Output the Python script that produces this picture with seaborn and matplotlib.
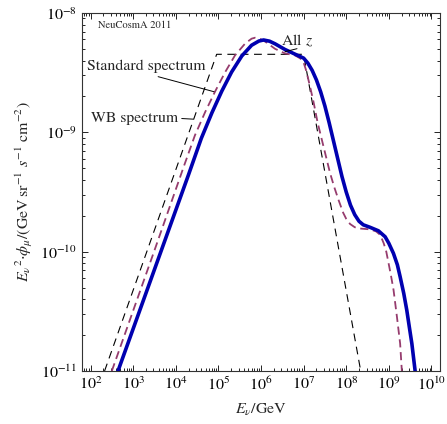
import numpy as np
import pandas as pd
import matplotlib
matplotlib.use("Agg")
import matplotlib.pyplot as plt
from matplotlib.ticker import NullFormatter, LogFormatterMathtext
import seaborn as sns

# log10 of neutrino energy (GeV) and log10 of E^2 * flux (GeV sr^-1 s^-1 cm^-2)
full_logE = [2.645, 4.0, 4.3, 4.6, 4.85, 5.08, 5.31, 5.55, 5.78, 5.95, 6.06, 6.2, 6.33,
             6.56, 6.8, 7.0, 7.1, 7.2, 7.3, 7.4, 7.5, 7.6, 7.7, 7.8, 7.9, 8.0, 8.1, 8.2,
             8.3, 8.4, 8.56, 8.755, 8.913, 9.0, 9.108, 9.2, 9.265, 9.35, 9.421, 9.48,
             9.54, 9.58, 9.617]
full_logF = [-11.0, -9.653, -9.355, -9.05, -8.835, -8.655, -8.495, -8.36, -8.27, -8.235,
             -8.226, -8.236, -8.258, -8.305, -8.345, -8.378, -8.42, -8.48, -8.56, -8.66,
             -8.78, -8.92, -9.07, -9.22, -9.37, -9.5, -9.61, -9.69, -9.745, -9.775,
             -9.796, -9.825, -9.875, -9.93, -10.014, -10.11, -10.21, -10.35, -10.49,
             -10.63, -10.77, -10.89, -11.0]

std_logE = [2.5, 3.5, 4.2, 4.45, 4.69, 4.92, 5.16, 5.39, 5.63, 5.78, 5.86, 5.97, 6.1,
            6.33, 6.56, 6.8, 6.92, 7.0, 7.05, 7.1, 7.15, 7.23, 7.33, 7.43, 7.53, 7.62,
            7.72, 7.82, 7.93, 8.0, 8.09, 8.2, 8.29, 8.56, 8.7, 8.8, 8.88, 8.94, 8.99,
            9.05, 9.11, 9.19, 9.265, 9.305]
std_logF = [-11.0, -9.99, -9.275, -9.025, -8.83, -8.66, -8.495, -8.355, -8.255, -8.215,
            -8.207, -8.215, -8.24, -8.3, -8.338, -8.355, -8.38, -8.415, -8.47, -8.54,
            -8.615, -8.74, -8.92, -9.065, -9.21, -9.34, -9.46, -9.567, -9.675, -9.725,
            -9.768, -9.795, -9.805, -9.813, -9.83, -9.86, -9.93, -10.0, -10.09, -10.2,
            -10.32, -10.546, -10.77, -11.0]

wb_logE = [2.33, 4.96, 7.0, 8.34]
wb_logF = [-11.0, -8.346, -8.346, -11.0]

curves = {
    "full": (np.power(10.0, full_logE), np.power(10.0, full_logF)),
    "std": (np.power(10.0, std_logE), np.power(10.0, std_logF)),
    "wb": (np.power(10.0, wb_logE), np.power(10.0, wb_logF)),
}

sns.set_theme(style="ticks")
plt.rcParams["font.family"] = ["STIXGeneral", "DejaVu Serif"]
plt.rcParams["mathtext.fontset"] = "stix"

fig = plt.figure(figsize=(4.47, 4.24), dpi=100)
ax = fig.add_axes([0.1834, 0.125, 0.8009, 0.8443])

x, y = curves["wb"]
sns.lineplot(x=x, y=y, ax=ax, color="black", lw=0.8,
             linestyle=(0, (7, 5)), sort=False, estimator=None)
x, y = curves["std"]
sns.lineplot(x=x, y=y, ax=ax, color="#963c6e", lw=1.3,
             linestyle=(0, (4.5, 2.6)), sort=False, estimator=None)
x, y = curves["full"]
sns.lineplot(x=x, y=y, ax=ax, color="#0000b0", lw=2.6,
             sort=False, estimator=None, solid_joinstyle="round")

ax.set_xscale("log")
ax.set_yscale("log")
ax.set_xlim(10**1.8, 10**10.2)
ax.set_ylim(1e-11, 1e-8)

x_major = [10.0**k for k in range(2, 11)]
x_minor = [m * 10.0**k for k in range(1, 11) for m in range(2, 10)
           if 10**1.8 <= m * 10.0**k <= 10**10.2]
y_major = [10.0**k for k in range(-11, -7)]
y_minor = [m * 10.0**k for k in range(-11, -8) for m in range(2, 10)]
ax.set_xticks(x_major)
ax.set_xticks(x_minor, minor=True)
ax.set_yticks(y_major)
ax.set_yticks(y_minor, minor=True)
ax.xaxis.set_major_formatter(LogFormatterMathtext())
ax.yaxis.set_major_formatter(LogFormatterMathtext())
ax.xaxis.set_minor_formatter(NullFormatter())
ax.yaxis.set_minor_formatter(NullFormatter())

ax.tick_params(which="both", direction="in", top=True, right=True, colors="black",
               labelsize=11.5, width=0.6)
ax.tick_params(which="major", length=4.5)
ax.tick_params(which="minor", length=2.2)
for s in ax.spines.values():
    s.set_linewidth(0.8)
    s.set_color("#333333")

ax.set_xlabel(r"$E_\nu$/GeV", fontsize=11.5, labelpad=6)
ax.set_ylabel(r"$E_\nu{}^2{\cdot}\phi_\mu$/(GeV$\,$sr$^{-1}$ $s^{-1}$ cm$^{-2}$)",
              fontsize=11.5, labelpad=4)

ax.text(1.1e3, 7.94e-9, "NeuCosmA 2011", fontsize=7.6, ha="center", va="center")

ax.annotate("Standard spectrum", xy=(7.9e4, 2.19e-9), xytext=(2.0e3, 3.55e-9),
            fontsize=11.3, ha="center", va="center",
            arrowprops=dict(arrowstyle="-", color="black", lw=0.7,
                            shrinkA=0, shrinkB=0, relpos=(0.5, 0.0)))
ax.annotate("WB spectrum", xy=(2.55e4, 1.29e-9), xytext=(1.1e3, 1.31e-9),
            fontsize=11.3, ha="center", va="center",
            arrowprops=dict(arrowstyle="-", color="black", lw=0.7,
                            shrinkA=0, shrinkB=0, relpos=(1.0, 0.5)))
ax.annotate(r"All $z$", xy=(3.67e6, 4.74e-9), xytext=(7.0e6, 5.88e-9),
            fontsize=11.3, ha="center", va="center",
            arrowprops=dict(arrowstyle="-", color="black", lw=0.7,
                            shrinkA=0, shrinkB=0, relpos=(0.5, 0.0)))

fig.savefig("out.png", dpi=100)
